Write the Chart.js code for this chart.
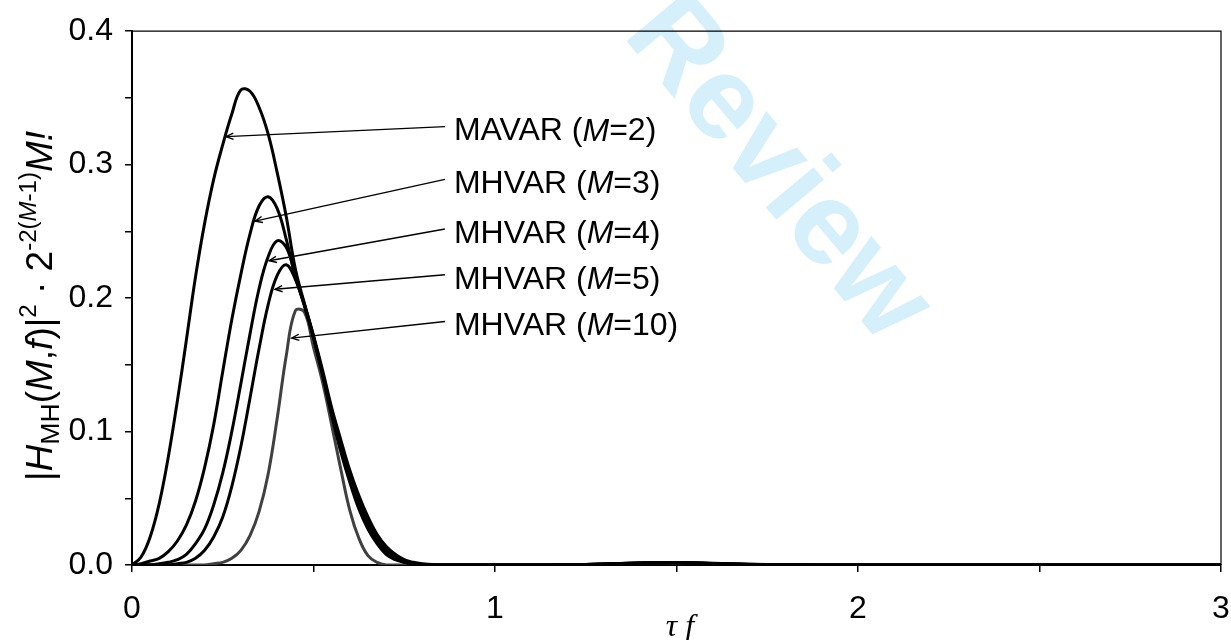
<!DOCTYPE html>
<html>
<head>
<meta charset="utf-8">
<script src="https://cdn.jsdelivr.net/npm/chart.js@4.4.1/dist/chart.umd.min.js"></script>
<style>
    html, body { margin: 0; padding: 0; background: #fff; }
    #wrap { width: 1231px; height: 640px; }
</style>
</head>
<body>
<div id="wrap"><canvas id="filterChart"></canvas></div>
<script>
// Transfer functions of MAVAR / MHVAR

// tau*f sample points
const tauF = [
    0, 0.025, 0.05, 0.075, 0.1, 0.125, 0.15, 0.175, 0.2, 0.225,
    0.25, 0.275, 0.3, 0.325, 0.35, 0.375, 0.4, 0.425, 0.45, 0.475,
    0.5, 0.525, 0.55, 0.575, 0.6, 0.625, 0.65, 0.675, 0.7, 0.725,
    0.75, 0.775, 0.8, 0.85, 0.9, 1.0, 1.1, 1.2, 1.3, 1.4,
    1.5, 1.6, 1.7, 1.8, 2.0, 2.5, 3.0
];

const mavar2 = [
    0, 0.006, 0.021, 0.046, 0.081, 0.123, 0.169, 0.216, 0.256, 0.289,
    0.315, 0.338, 0.356, 0.355, 0.343, 0.323, 0.294, 0.261, 0.222, 0.196,
    0.172, 0.146, 0.118, 0.094, 0.071, 0.052, 0.036, 0.023, 0.014, 0.008,
    0.004, 0.002, 0.001, 0, 0, 0, 0, 0.0002, 0.0008, 0.0016,
    0.0019, 0.0013, 0.0005, 0.0001, 0, 0, 0
];

const mhvar3 = [
    0, 0.001, 0.003, 0.005, 0.010, 0.018, 0.030, 0.048, 0.073, 0.105,
    0.145, 0.184, 0.218, 0.248, 0.269, 0.276, 0.267, 0.244, 0.216, 0.195,
    0.171, 0.144, 0.116, 0.091, 0.068, 0.048, 0.033, 0.021, 0.012, 0.006,
    0.003, 0.001, 0, 0, 0, 0, 0, 0.0002, 0.0007, 0.0015,
    0.0018, 0.0012, 0.0005, 0.0001, 0, 0, 0
];

const mhvar4 = [
    0, 0, 0, 0.001, 0.002, 0.004, 0.008, 0.016, 0.027, 0.045,
    0.069, 0.100, 0.136, 0.173, 0.207, 0.231, 0.243, 0.238, 0.217, 0.195,
    0.171, 0.143, 0.114, 0.088, 0.065, 0.045, 0.030, 0.018, 0.010, 0.005,
    0.002, 0.001, 0, 0, 0, 0, 0, 0.0001, 0.0007, 0.0014,
    0.0017, 0.0012, 0.0004, 0.0001, 0, 0, 0
];

const mhvar5 = [
    0, 0, 0, 0, 0, 0.001, 0.002, 0.005, 0.011, 0.021,
    0.036, 0.059, 0.089, 0.125, 0.162, 0.195, 0.217, 0.225, 0.214, 0.194,
    0.170, 0.142, 0.112, 0.085, 0.062, 0.042, 0.027, 0.016, 0.008, 0.004,
    0.002, 0.001, 0, 0, 0, 0, 0, 0.0001, 0.0006, 0.0014,
    0.0017, 0.0011, 0.0004, 0.0001, 0, 0, 0
];

const mhvar10 = [
    0, 0, 0, 0, 0, 0, 0, 0, 0, 0.001,
    0.002, 0.005, 0.011, 0.022, 0.040, 0.068, 0.110, 0.157, 0.1905, 0.1895,
    0.163, 0.137, 0.105, 0.072, 0.041, 0.020, 0.007, 0.002, 0, 0,
    0, 0, 0, 0, 0, 0, 0, 0.0001, 0.0005, 0.0012,
    0.0015, 0.0010, 0.0004, 0.0001, 0, 0, 0
];

// Curve labels and where their arrows point (data units)
const labelNames = ['MAVAR', 'MHVAR', 'MHVAR', 'MHVAR', 'MHVAR'];
const labelOrders = [2, 3, 4, 5, 10];
const labelTau = 0.862;
const labelVal = [0.3285, 0.289, 0.2518, 0.2175, 0.1825];
const tipTau = [0.259, 0.339, 0.378, 0.394, 0.44];
const tipVal = [0.321, 0.2577, 0.228, 0.2066, 0.170];

const sansFont = '"Liberation Sans", Arial, sans-serif';

function toPoints(values) {
    return values.map((v, i) => ({ x: tauF[i], y: v }));
}

// Draw a list of [text, italic, scale, shiftEm] runs on one baseline
function drawRuns(ctx, runs, x, y, size, align) {
    const fontFor = r => (r[1] ? 'italic ' : '') + (size * r[2]) + 'px ' + sansFont;
    let total = 0;
    runs.forEach(r => { ctx.font = fontFor(r); total += ctx.measureText(r[0]).width; });
    let cx = align === 'center' ? x - total / 2 : x;
    ctx.textAlign = 'left';
    runs.forEach(r => {
        ctx.font = fontFor(r);
        ctx.fillText(r[0], cx, y + r[3] * size);
        cx += ctx.measureText(r[0]).width;
    });
}

const decorPlugin = {
    id: 'decor',
    beforeDraw(chart) {
        // faint "Review" stamp
        const ctx = chart.ctx;
        ctx.save();
        ctx.translate(777, 170);
        ctx.rotate(50 * Math.PI / 180);
        ctx.font = 'bold 118px ' + sansFont;
        ctx.fillStyle = '#d5effb';
        ctx.textAlign = 'center';
        ctx.textBaseline = 'middle';
        ctx.fillText('Review', 0, 0);
        ctx.restore();
    },
    beforeDatasetsDraw(chart) {
        // top and right frame lines
        const { ctx, chartArea: a } = chart;
        ctx.save();
        ctx.strokeStyle = '#000';
        ctx.lineWidth = 1.2;
        ctx.beginPath();
        ctx.moveTo(a.left, a.top);
        ctx.lineTo(a.right, a.top);
        ctx.lineTo(a.right, a.bottom);
        ctx.stroke();
        ctx.restore();
    },
    afterDatasetsDraw(chart) {
        const { ctx, scales: { x, y } } = chart;
        ctx.save();
        ctx.strokeStyle = '#000';
        ctx.fillStyle = '#000';
        ctx.lineWidth = 1.4;
        labelNames.forEach((name, i) => {
            const x0 = x.getPixelForValue(labelTau);
            const y0 = y.getPixelForValue(labelVal[i]);
            const x1 = x.getPixelForValue(tipTau[i]);
            const y1 = y.getPixelForValue(tipVal[i]);
            ctx.beginPath();
            ctx.moveTo(x0, y0);
            ctx.lineTo(x1, y1);
            ctx.stroke();
            // open arrow head
            const ang = Math.atan2(y0 - y1, x0 - x1);
            const len = 8, spread = 0.4;
            ctx.beginPath();
            ctx.moveTo(x1 + len * Math.cos(ang - spread), y1 + len * Math.sin(ang - spread));
            ctx.lineTo(x1, y1);
            ctx.lineTo(x1 + len * Math.cos(ang + spread), y1 + len * Math.sin(ang + spread));
            ctx.stroke();
            ctx.textBaseline = 'middle';
            drawRuns(ctx, [
                [name + ' (', false, 1, 0],
                ['M', true, 1, 0],
                ['=' + labelOrders[i] + ')', false, 1, 0]
            ], x0 + 9, y0 + 5, 32, 'left');
        });
        ctx.restore();
    },
    afterDraw(chart) {
        const ctx = chart.ctx;
        // y axis title, rotated
        ctx.save();
        ctx.fillStyle = '#000';
        ctx.translate(52, 306);
        ctx.rotate(-Math.PI / 2);
        ctx.textBaseline = 'alphabetic';
        drawRuns(ctx, [
            ['|', false, 1, 0],
            ['H', true, 1, 0],
            ['MH', false, 0.72, 0.2],
            ['(', false, 1, 0],
            ['M', true, 1, 0],
            [',', false, 1, 0],
            ['f', true, 1, 0],
            [')|', false, 1, 0],
            ['2', false, 0.65, -0.42],
            [' \u00b7 ', false, 1, 0],
            ['2', false, 1, 0],
            ['-2(', false, 0.65, -0.42],
            ['M', true, 0.65, -0.42],
            ['-1)', false, 0.65, -0.42],
            ['M!', true, 1, 0]
        ], 0, 0, 37, 'center');
        ctx.restore();
        // x axis title
        ctx.save();
        ctx.fillStyle = '#000';
        ctx.font = 'italic 32px "Liberation Serif", "Times New Roman", serif';
        ctx.textAlign = 'center';
        ctx.textBaseline = 'alphabetic';
        ctx.fillText('\u03c4 f', 680, 636);
        ctx.restore();
    }
};

function makeSet(label, values, color) {
    return {
        label: label,
        data: toPoints(values),
        borderColor: color,
        borderWidth: 3,
        pointRadius: 0,
        fill: false,
        tension: 0.4
    };
}

new Chart(document.getElementById('filterChart'), {
    type: 'line',
    data: {
        datasets: [
            makeSet('MAVAR (M=2)', mavar2, '#000'),
            makeSet('MHVAR (M=3)', mhvar3, '#000'),
            makeSet('MHVAR (M=4)', mhvar4, '#000'),
            makeSet('MHVAR (M=5)', mhvar5, '#000'),
            makeSet('MHVAR (M=10)', mhvar10, '#404040')
        ]
    },
    options: {
        responsive: true,
        maintainAspectRatio: false,
        animation: false,
        devicePixelRatio: 1,
        layout: { padding: { top: 28, right: 10, left: 0, bottom: 0 } },
        plugins: {
            legend: { display: false },
            tooltip: { enabled: false }
        },
        scales: {
            x: {
                type: 'linear',
                min: 0,
                max: 3,
                afterFit: scale => {
                    scale.height = 75;
                    scale.paddingLeft = 0;
                    scale.paddingRight = 0;
                },
                border: { display: true, color: '#000', width: 2 },
                grid: { drawOnChartArea: false, drawTicks: true, tickLength: 7, color: '#000', lineWidth: 1.5 },
                ticks: {
                    stepSize: 0.5,
                    autoSkip: false,
                    maxRotation: 0,
                    padding: 18,
                    color: '#000',
                    font: { size: 32, family: sansFont },
                    callback: v => Number.isInteger(v) ? String(v) : ''
                }
            },
            y: {
                min: 0,
                max: 0.4,
                afterFit: scale => { scale.width = 132; },
                border: { display: true, color: '#000', width: 2 },
                grid: { drawOnChartArea: false, drawTicks: true, tickLength: 7, color: '#000', lineWidth: 1.5 },
                ticks: {
                    stepSize: 0.05,
                    autoSkip: false,
                    padding: 12,
                    color: '#000',
                    font: { size: 32, family: sansFont },
                    callback: v => Math.abs(v * 10 - Math.round(v * 10)) < 1e-6 ? v.toFixed(1) : ''
                }
            }
        }
    },
    plugins: [decorPlugin]
});
</script>
</body>
</html>
